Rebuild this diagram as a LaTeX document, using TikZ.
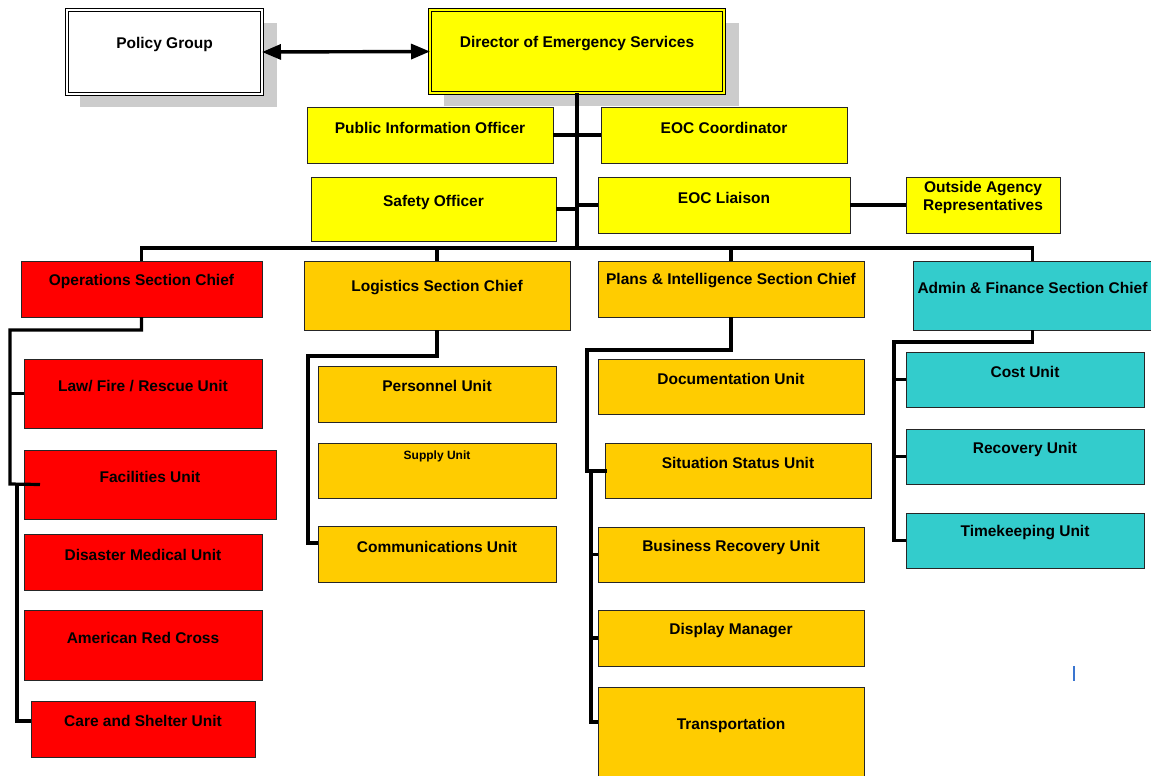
\documentclass[tikz,border=0pt]{standalone}
\usepackage{fontspec}
\setmainfont{Liberation Sans}
\usetikzlibrary{arrows.meta}
\definecolor{cyel}{HTML}{FFFF00}
\definecolor{cred}{HTML}{FF0000}
\definecolor{cgold}{HTML}{FFCC00}
\definecolor{cteal}{HTML}{33CCCC}
\definecolor{cshadow}{HTML}{CCCCCC}
\definecolor{ccursor}{HTML}{3A75D0}
\tikzset{
  box/.style={rectangle, draw=black!85, line width=1pt, inner sep=0pt, outer sep=0pt},
  lbl/.style={inner sep=0pt, align=center, font=\fontsize{15.5}{18}\selectfont\bfseries},
  smalllbl/.style={inner sep=0pt, align=center, font=\fontsize{12}{14}\selectfont\bfseries},
  conn/.style={draw=black, line width=3.2pt},
  shadowbox/.style={fill=cshadow, draw=none},
  dbl/.style={draw=black, line width=0.9pt, double distance=2.4pt},
  bigtip/.style={line width=3.4pt, {Triangle[length=19pt,width=15pt]}-{Triangle[length=19pt,width=15pt]}}
}
\newcommand\boxnode[8]{%
  \node[box, #6, minimum width={#4-#2}, minimum height={#5-#3}] (#1) at ({(#2+#4)/2},{(#3+#5)/2}) {};
  \node[lbl] (#1-t) at ({(#2+#4)/2},#7) {#8};}
\begin{document}
\begin{tikzpicture}[x=1pt,y=-1pt]
\useasboundingbox (0,0) rectangle (1151,776);
\clip (0,0) rectangle (1151,776);
% shadows
\fill[shadowbox] (80,23) rectangle (277,107);
\fill[shadowbox] (444,23) rectangle (739,106);
% top boxes
\boxnode{pg}{67}{10}{262}{94}{dbl, double=white, fill=white}{44}{Policy Group}
\boxnode{des}{430}{10}{724}{93}{dbl, double=cyel, fill=cyel}{44}{Director of Emergency Services}
\boxnode{pio}{307}{107}{553}{163}{fill=cyel}{128}{Public Information Officer}
\boxnode{eoc}{601}{107}{847}{163}{fill=cyel}{128}{EOC Coordinator}
\boxnode{saf}{311}{177}{556}{241}{fill=cyel}{202}{Safety Officer}
\boxnode{lia}{598}{177}{850}{233}{fill=cyel}{198}{EOC Liaison}
\boxnode{oar}{906}{177}{1060}{233}{fill=cyel}{197}{Outside Agency\\Representatives}
% section chiefs
\boxnode{ops}{21}{261}{262}{317}{fill=cred}{281}{Operations Section Chief}
\boxnode{log}{304}{261}{570}{330}{fill=cgold}{288}{Logistics Section Chief}
\boxnode{pln}{598}{261}{864}{317}{fill=cgold}{281}{Plans \& Intelligence Section Chief}
\boxnode{adm}{913}{261}{1152}{330}{fill=cteal}{288}{Admin \& Finance Section Chief}
% operations units
\boxnode{law}{24}{359}{262}{428}{fill=cred}{386}{Law/ Fire / Rescue Unit}
\boxnode{fac}{24}{450}{276}{519}{fill=cred}{477}{Facilities Unit}
\boxnode{dmu}{24}{534}{262}{590}{fill=cred}{555}{Disaster Medical Unit}
\boxnode{arc}{24}{610}{262}{680}{fill=cred}{638}{American Red Cross}
\boxnode{cas}{31}{701}{255}{757}{fill=cred}{721}{Care and Shelter Unit}
% logistics units
\boxnode{per}{318}{366}{556}{422}{fill=cgold}{386}{Personnel Unit}
\node[box, fill=cgold, minimum width=238, minimum height=55] (sup) at (437,470.5) {};
\node[smalllbl] (sup-t) at (437,456) {Supply Unit};
\boxnode{com}{318}{526}{556}{582}{fill=cgold}{547}{Communications Unit}
% plans units
\boxnode{doc}{598}{359}{864}{414}{fill=cgold}{379}{Documentation Unit}
\boxnode{sit}{605}{443}{871}{498}{fill=cgold}{463}{Situation Status Unit}
\boxnode{bru}{598}{527}{864}{582}{fill=cgold}{547}{Business Recovery Unit}
\boxnode{dsp}{598}{610}{864}{666}{fill=cgold}{631}{Display Manager}
\boxnode{trn}{598}{687}{864}{790}{fill=cgold}{725}{Transportation}
% admin units
\boxnode{cst}{906}{352}{1144}{407}{fill=cteal}{372}{Cost Unit}
\boxnode{rec}{906}{429}{1144}{484}{fill=cteal}{449}{Recovery Unit}
\boxnode{tmk}{906}{513}{1144}{568}{fill=cteal}{533}{Timekeeping Unit}
% connectors
\draw[bigtip] (pg.east) -- (des.west);
\coordinate (bus) at (577,248);
\draw[conn] (des.south) -- (bus);
\draw[conn] (pio.east) -- (eoc.west);
\draw[conn] (saf.east) -- (saf.east -| bus);
\draw[conn] (lia.west) -- (lia.west -| bus);
\draw[conn] (lia.east) -- (oar.west);
\draw[conn] (ops.north) -- (ops.north |- bus) -- (adm.north |- bus) -- (adm.north);
\draw[conn] (log.north |- bus) -- (log.north);
\draw[conn] (pln.north |- bus) -- (pln.north);
% operations
\coordinate (opsL) at (10,330);
\coordinate (opsJ) at (10,484);
\coordinate (opsK) at (17,484);
\draw[conn] (ops.south) |- (opsL) -- (opsJ) -- ([xshift=16pt]fac.west);
\draw[conn] (law.west) -- (law.west -| opsL);
\draw[conn] (opsK) -- (opsK |- 0,721) -- (cas.west |- 0,721);
% logistics
\coordinate (logL) at (308,356);
\draw[conn] (log.south) |- (logL) -- (logL |- 0,543) -- (com.west |- 0,543);
% plans
\coordinate (plnL) at (587,350);
\coordinate (plnJ) at (587,471);
\coordinate (plnK) at (591,471);
\draw[conn] (pln.south) |- (plnL) -- (plnJ) -- ([xshift=2pt]sit.west |- plnJ);
\draw[conn] (plnK) -- (plnK |- 0,722) -- (trn.west |- 0,722);
\draw[conn] (bru.west) -- (bru.west -| plnK);
\draw[conn] (dsp.west) -- (dsp.west -| plnK);
% admin
\coordinate (admL) at (894,342);
\draw[conn] (adm.south) |- (admL) -- (admL |- tmk.west) -- (tmk.west);
\draw[conn] (cst.west) -- (cst.west -| admL);
\draw[conn] (rec.west) -- (rec.west -| admL);
% text cursor mark
\draw[ccursor, line width=1.5pt] (1074,666) -- (1074,681);
\end{tikzpicture}
\end{document}
